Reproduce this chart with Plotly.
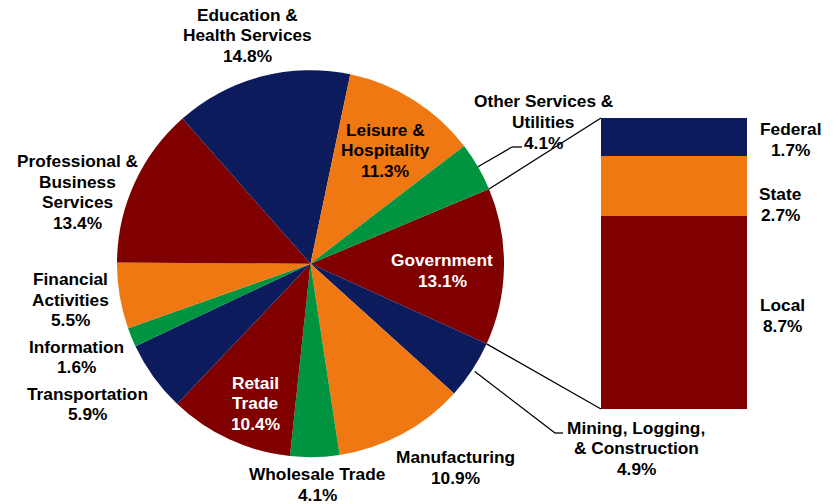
import math
import plotly.graph_objects as go

W, H = 836, 504

RED = "#800000"
NAVY = "#0C1B5C"
ORANGE = "#F07812"
GREEN = "#009441"

# ---- data ----
sectors = ["Government", "Mining, Logging,<br>& Construction", "Manufacturing",
           "Wholesale Trade", "Retail<br>Trade", "Transportation", "Information",
           "Financial<br>Activities", "Professional &<br>Business<br>Services",
           "Education &<br>Health Services", "Leisure &<br>Hospitality",
           "Other Services &<br>Utilities"]
shares = [13.1, 4.9, 10.9, 4.1, 10.4, 5.9, 1.6, 5.5, 13.4, 14.8, 11.3, 4.1]
sector_colors = [RED, NAVY, ORANGE, GREEN, RED, NAVY, GREEN, ORANGE, RED, NAVY, ORANGE, GREEN]
sector_text_colors = ["white", "black", "black", "black", "white", "black", "black",
                      "black", "black", "black", "black", "black"]

gov_levels = ["Local", "State", "Federal"]
gov_shares = [8.7, 2.7, 1.7]
gov_colors = [RED, ORANGE, NAVY]

# ---- layout geometry (px) ----
PIE_CX, PIE_CY, PIE_R = 310.5, 263.7, 193.5
ROTATION = 67.3
BAR_X0, BAR_X1, BAR_TOP, BAR_BOT = 601, 747, 118, 409

# label block centres (px)
sector_label_pos = [(442, 270.5), (636, 448), (456, 467.5), (317.5, 484.5), (255, 403),
                    (87, 404), (76, 357), (70.5, 299.5), (77.5, 192), (247, 35),
                    (385, 150), (543, 122)]
gov_label_pos = [(782.5, 315), (780, 204.5), (790.5, 139.5)]


def px(x):
    return x / W


def py(y):
    return 1 - y / H


fig = go.Figure()

fig.add_trace(go.Pie(
    labels=[s.replace("<br>", " ") for s in sectors], values=shares,
    marker=dict(colors=sector_colors, line=dict(width=0)),
    sort=False, direction="clockwise", rotation=ROTATION,
    textinfo="none", hoverinfo="label+percent",
    domain=dict(x=[px(PIE_CX - PIE_R), px(PIE_CX + PIE_R)],
                y=[py(PIE_CY + PIE_R), py(PIE_CY - PIE_R)]),
    showlegend=False,
))

for lvl, val, col in zip(gov_levels, gov_shares, gov_colors):
    fig.add_trace(go.Bar(x=[0], y=[val], name=lvl, width=1, marker=dict(color=col, line=dict(width=0)),
                         showlegend=False, hoverinfo="name+y"))

total_gov = sum(gov_shares)

FONT = dict(family="Liberation Sans, Arial, sans-serif", size=17.3, weight="bold")
LINE_H = 20.5

annotations = []


def add_block(text, cx, cy, color, line_h=LINE_H):
    lines = text.split("<br>")
    n = len(lines)
    for i, ln in enumerate(lines):
        yy = cy + (i - (n - 1) / 2) * line_h
        annotations.append(dict(x=px(cx), y=py(yy), xref="paper", yref="paper",
                                text=ln, showarrow=False, xanchor="center", yanchor="middle",
                                font=dict(FONT, color=color)))


for s, v, (cx, cy), tc in zip(sectors, shares, sector_label_pos, sector_text_colors):
    add_block(f"{s}<br>{v:.1f}%", cx, cy, tc)

for lvl, v, (cx, cy) in zip(gov_levels, gov_shares, gov_label_pos):
    add_block(f"{lvl}<br>{v:.1f}%", cx, cy, "black", 21)

# ---- leader and connector lines ----
total = sum(shares)


def pie_point(frac, r=PIE_R):
    ang = math.radians(ROTATION + frac * 360)
    return PIE_CX + r * math.sin(ang), PIE_CY - r * math.cos(ang)


cum = []
c = 0
for v in shares:
    cum.append(c / total)
    c += v

shapes = []


def seg(p0, p1):
    shapes.append(dict(type="line", xref="paper", yref="paper",
                       x0=px(p0[0]), y0=py(p0[1]), x1=px(p1[0]), y1=py(p1[1]),
                       line=dict(color="black", width=1.3)))


# government connectors
g0 = pie_point(cum[0])
g1 = pie_point(cum[1])
seg(g0, (BAR_X0, BAR_TOP))
seg(g1, (BAR_X0, BAR_BOT))

# Other services leader
i_os = 11
p = pie_point(cum[i_os] + shares[i_os] / total / 2)
seg(p, (512, 147))
seg((512, 147), (522, 147))

# Mining leader
i_m = 1
p = pie_point(cum[i_m] + shares[i_m] / total / 2, PIE_R + 3)
seg(p, (555, 433))
seg((555, 433), (563, 433))

fig.update_layout(
    width=W, height=H, margin=dict(l=0, r=0, t=0, b=0),
    paper_bgcolor="white", plot_bgcolor="white",
    barmode="stack", bargap=0,
    xaxis=dict(domain=[px(BAR_X0), px(BAR_X1)], range=[-0.5, 0.5], visible=False, fixedrange=True),
    yaxis=dict(domain=[py(BAR_BOT), py(BAR_TOP)], range=[0, total_gov], visible=False, fixedrange=True),
    annotations=annotations, shapes=shapes, showlegend=False,
)

fig.write_html("out.html", config=dict(displayModeBar=False),
               post_script="document.body.style.margin='0';document.body.style.overflow='hidden';")
